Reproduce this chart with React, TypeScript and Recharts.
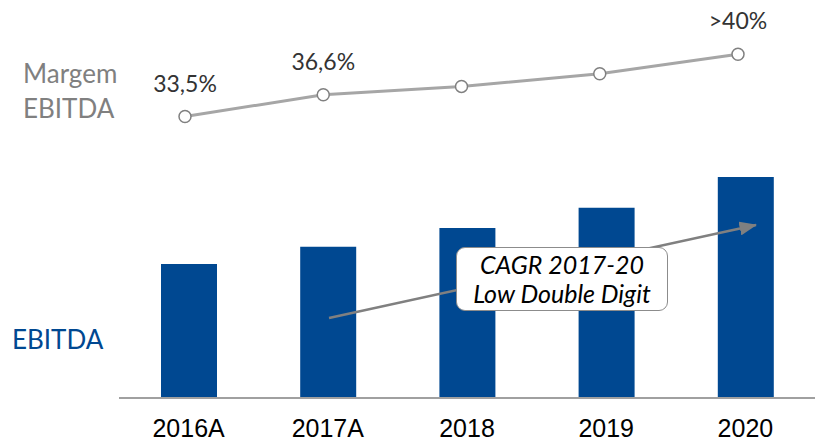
import { BarChart, Bar, LineChart, Line, XAxis, YAxis, LabelList } from 'recharts'

const years = ['2016A', '2017A', '2018', '2019', '2020']
// EBITDA as an index, 2016A = 100 (no values printed on the chart)
const ebitdaIndex = [100, 113, 127, 142, 165]
const margemEbitda = [33.5, 36.6, 37.8, 39.6, 42.4]
const margemLabels = ['33,5%', '36,6%', '', '', '>40%']

const data = years.map((year, i) => ({
  year,
  ebitda: ebitdaIndex[i],
  margem: margemEbitda[i],
  margemLabel: margemLabels[i],
}))

const BLUE = '#004891'
const GREY_LINE = '#a6a6a6'
const ING_FONT = 'Lato, "Open Sans", sans-serif'

// eslint-disable-next-line @typescript-eslint/no-explicit-any
function MargemLabel({ x, y, value }: any) {
  if (!value) return null
  return (
    <text x={x} y={y - 25} textAnchor="middle" fontSize={23} fill="#333" fontFamily={ING_FONT}>
      {value}
    </text>
  )
}

export default function App() {
  return (
    <div style={{ position: 'absolute', left: 0, top: 0, width: 815, height: 442, background: '#fff' }}>
      <div style={{ position: 'absolute', left: 0, top: 0 }}>
        <BarChart width={815} height={442} data={data} margin={{ top: 177, right: 0, bottom: 0, left: 119 }}>
          <XAxis
            dataKey="year"
            height={44}
            tickLine={false}
            axisLine={{ stroke: '#a0a0a0', strokeWidth: 2 }}
            tick={{ fontSize: 25, fill: '#000', fontFamily: '"Liberation Sans", Arial, sans-serif' }}
            tickMargin={15}
          />
          <YAxis hide domain={[0, 165]} />
          <Bar dataKey="ebitda" fill={BLUE} barSize={56} isAnimationActive={false} />
        </BarChart>
      </div>

      <div style={{ position: 'absolute', left: 0, top: 0 }}>
        <LineChart width={815} height={442} data={data} margin={{ top: 36, right: 77, bottom: 301, left: 185 }}>
          <XAxis dataKey="year" hide />
          <YAxis hide domain={[30, 45]} />
          <Line
            dataKey="margem"
            stroke={GREY_LINE}
            strokeWidth={3}
            dot={{ r: 6, fill: '#fff', stroke: '#808080', strokeWidth: 1.5 }}
            isAnimationActive={false}
          >
            <LabelList dataKey="margemLabel" content={MargemLabel} />
          </Line>
        </LineChart>
      </div>

      <svg width={815} height={442} style={{ position: 'absolute', left: 0, top: 0 }}>
        <defs>
          <marker id="arrowHead" markerWidth="7" markerHeight="5.6" refX="6.6" refY="2.8" orient="auto" markerUnits="strokeWidth">
            <polygon points="0 0, 7 2.8, 0 5.6" fill="#808080" />
          </marker>
        </defs>
        <line x1={329} y1={318} x2={756} y2={225} stroke="#808080" strokeWidth={2.5} markerEnd="url(#arrowHead)" />
      </svg>

      <div
        style={{
          position: 'absolute',
          left: 456,
          top: 247,
          width: 212,
          height: 64,
          boxSizing: 'border-box',
          border: '1.5px solid #8c8c8c',
          borderRadius: 9,
          background: '#fff',
          display: 'flex',
          flexDirection: 'column',
          alignItems: 'center',
          justifyContent: 'center',
          fontFamily: ING_FONT,
          fontStyle: 'italic',
          fontSize: 25,
          lineHeight: '29px',
          color: '#000',
        }}
      >
        <div>CAGR 2017-20</div>
        <div>Low Double Digit</div>
      </div>

      <div
        style={{
          position: 'absolute',
          left: 23,
          top: 56,
          fontFamily: ING_FONT,
          fontSize: 26,
          lineHeight: '35px',
          color: '#808080',
        }}
      >
        Margem
        <br />
        EBITDA
      </div>

      <div
        style={{
          position: 'absolute',
          left: 12,
          top: 322,
          fontFamily: ING_FONT,
          fontSize: 26,
          lineHeight: '35px',
          color: BLUE,
        }}
      >
        EBITDA
      </div>
    </div>
  )
}
